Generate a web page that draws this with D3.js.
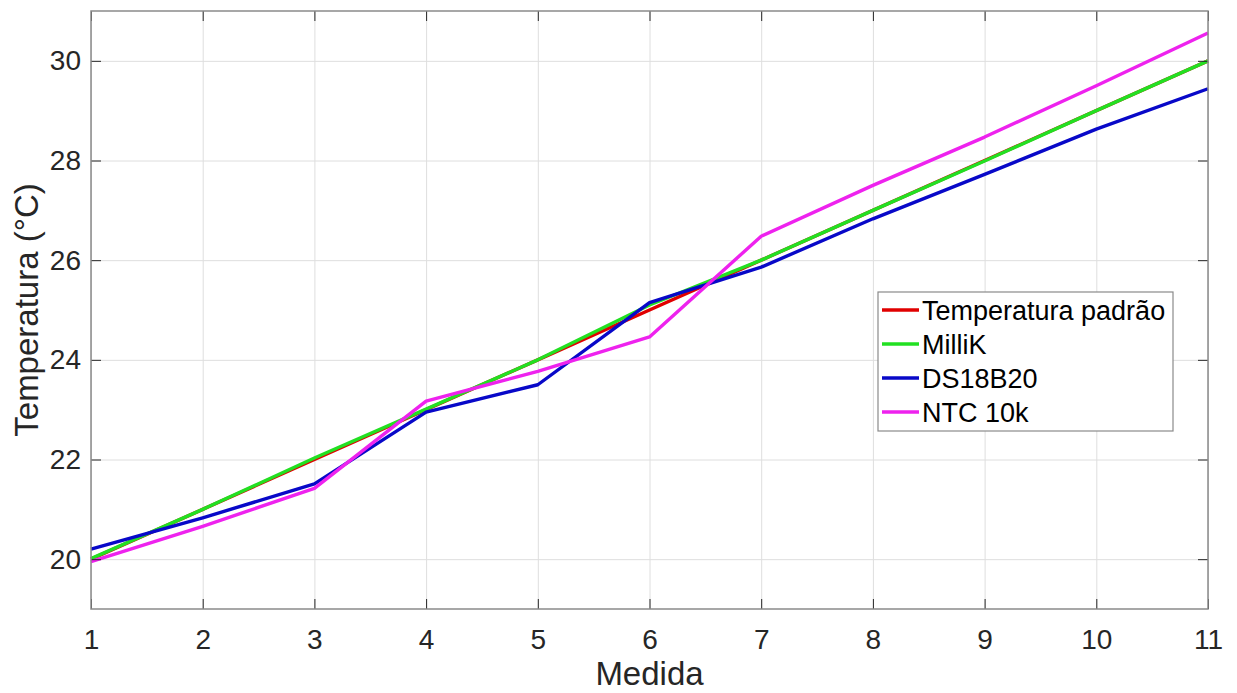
<!DOCTYPE html>
<html>
<head>
  <meta charset="utf-8">
  <style type="text/css">
    body { margin: 0; background: #fff; }
    svg { font-family: "Liberation Sans", Arial, sans-serif; }
    .axis text { font-size: 28px; fill: #262626; }
    .axis path { display: none; }
    .axis line { stroke: #262626; stroke-width: 1px; }
    .grid line { stroke: #dedede; stroke-width: 1px; }
    .grid path { display: none; }
    .serie { fill: none; stroke-width: 3.4px; stroke-linejoin: round; }
    .legend text { font-size: 27px; fill: #000; }
  </style>
</head>
<body>
  <script src="https://d3js.org/d3.v7.min.js"></script>
  <script>
    // medidas 1..11
    var medida = [1, 2, 3, 4, 5, 6, 7, 8, 9, 10, 11];
    var padrao = [20, 21, 22, 23, 24, 25, 26, 27, 28, 29, 30];
    var millik = [20.01, 21.0, 22.03, 23.01, 24.0, 25.1, 26.0, 27.0, 27.99, 29.0, 30.0];
    var ds18b20 = [20.2, 20.83, 21.51, 22.95, 23.5, 25.15, 25.86, 26.83, 27.72, 28.63, 29.44];
    var ntc10k = [19.95, 20.66, 21.42, 23.17, 23.77, 24.46, 26.48, 27.5, 28.47, 29.5, 30.56];

    var xTicks = [1, 2, 3, 4, 5, 6, 7, 8, 9, 10, 11];
    var yTicks = [20, 22, 24, 26, 28, 30];

    var series = [
      {name: "Temperatura padrão", values: padrao, color: "#e00000"},
      {name: "MilliK", values: millik, color: "#22e022"},
      {name: "DS18B20", values: ds18b20, color: "#0808c8"},
      {name: "NTC 10k", values: ntc10k, color: "#ee22ee"}
    ];

    var W = 1237, H = 693;
    var margin = {top: 11, right: 29, bottom: 84, left: 91};
    var width = W - margin.left - margin.right;
    var height = H - margin.top - margin.bottom;

    var x = d3.scaleLinear().domain([1, 11]).range([0, width]);
    var y = d3.scaleLinear().domain([19, 31]).range([height, 0]);

    var svg = d3.select("body").append("svg")
      .attr("width", W)
      .attr("height", H);

    var g = svg.append("g")
      .attr("transform", "translate(" + margin.left + "," + margin.top + ")");

    // grid
    g.append("g").attr("class", "grid")
      .attr("transform", "translate(0," + height + ")")
      .call(d3.axisBottom(x).tickValues(xTicks).tickSize(-height).tickFormat(""));
    g.append("g").attr("class", "grid")
      .call(d3.axisLeft(y).tickValues(yTicks).tickSize(-width).tickFormat(""));

    // series lines
    var line = d3.line()
      .x(function(d, i) { return x(medida[i]); })
      .y(function(d) { return y(d); });

    g.selectAll(".serie")
      .data(series)
      .enter().append("path")
      .attr("class", "serie")
      .attr("stroke", function(d) { return d.color; })
      .attr("d", function(d) { return line(d.values); });

    // axes with inner ticks (box on)
    g.append("g").attr("class", "x axis")
      .attr("transform", "translate(0," + height + ")")
      .call(d3.axisBottom(x).tickValues(xTicks).tickSize(-10).tickPadding(20));
    g.append("g").attr("class", "x axis top")
      .call(d3.axisTop(x).tickValues(xTicks).tickSize(-10).tickFormat(""));
    g.append("g").attr("class", "y axis")
      .call(d3.axisLeft(y).tickValues(yTicks).tickSize(-10).tickPadding(10));
    g.append("g").attr("class", "y axis right")
      .attr("transform", "translate(" + width + ",0)")
      .call(d3.axisRight(y).tickValues(yTicks).tickSize(-10).tickFormat(""));

    g.selectAll(".x.axis text").attr("dy", "0.71em");

    // frame
    g.append("rect")
      .attr("width", width)
      .attr("height", height)
      .attr("fill", "none")
      .attr("stroke", "#8a8a8a")
      .attr("stroke-width", 1.5);

    // axis labels
    svg.append("text")
      .attr("x", margin.left + width / 2)
      .attr("y", 685)
      .attr("text-anchor", "middle")
      .attr("font-size", "33px")
      .attr("fill", "#262626")
      .text("Medida");

    svg.append("text")
      .attr("transform", "translate(38," + (margin.top + height / 2) + ") rotate(-90)")
      .attr("text-anchor", "middle")
      .attr("font-size", "33px")
      .attr("fill", "#262626")
      .text("Temperatura (°C)");

    // legend
    var legend = svg.append("g").attr("class", "legend")
      .attr("transform", "translate(878,292)");
    legend.append("rect")
      .attr("width", 295)
      .attr("height", 139)
      .attr("fill", "#fff")
      .attr("stroke", "#8a8a8a")
      .attr("stroke-width", 1.2);

    var item = legend.selectAll(".item")
      .data(series)
      .enter().append("g")
      .attr("class", "item")
      .attr("transform", function(d, i) { return "translate(0," + (18 + i * 34) + ")"; });
    item.append("line")
      .attr("x1", 4).attr("x2", 41)
      .attr("stroke", function(d) { return d.color; })
      .attr("stroke-width", 3.4);
    item.append("text")
      .attr("x", 44)
      .attr("dy", "0.36em")
      .text(function(d) { return d.name; });
  </script>
</body>
</html>
